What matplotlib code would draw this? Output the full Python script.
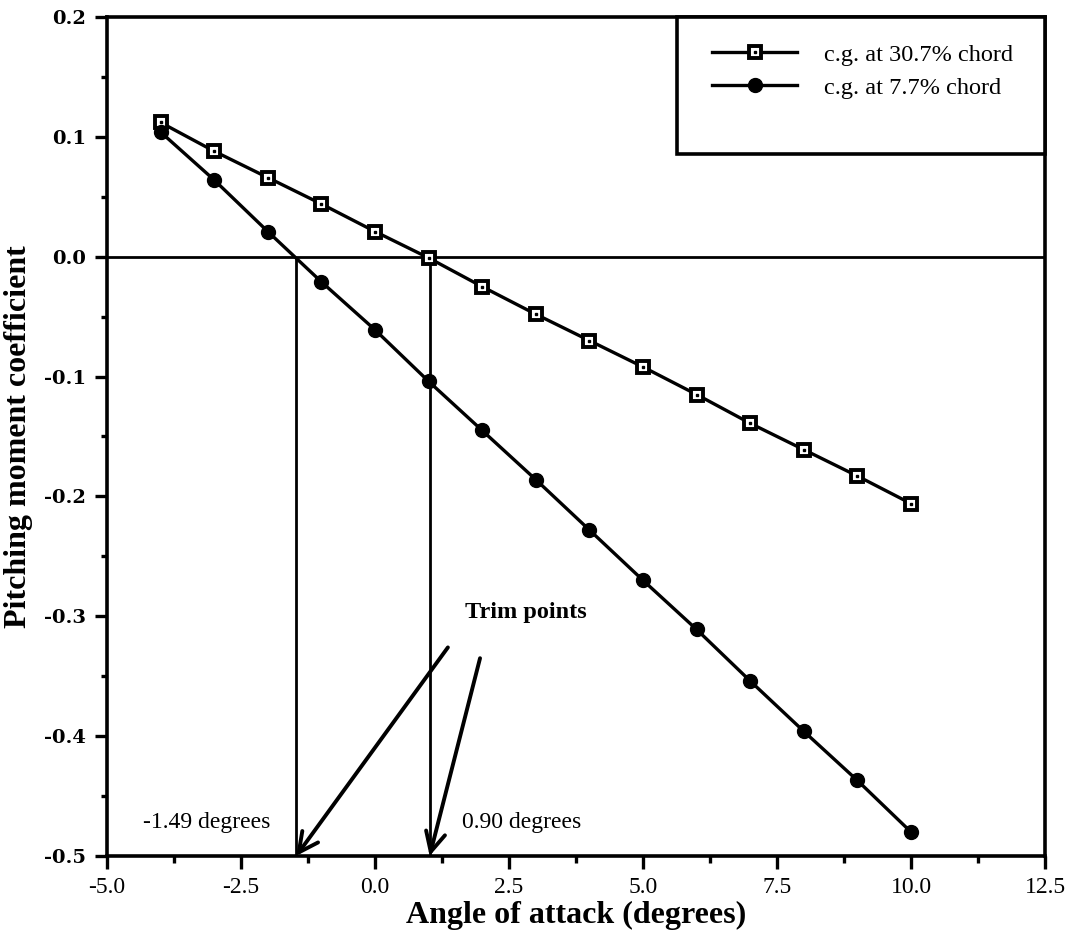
import matplotlib
matplotlib.use("Agg")
import matplotlib.pyplot as plt
from matplotlib.lines import Line2D
from matplotlib.patches import Rectangle
from matplotlib.legend_handler import HandlerTuple
from matplotlib.ticker import MultipleLocator, FormatStrFormatter

plt.rcParams['font.family'] = ['Liberation Serif', 'DejaVu Serif']

# data
alpha = [-4, -3, -2, -1, 0, 1, 2, 3, 4, 5, 6, 7, 8, 9, 10]
cm_307 = [0.112, 0.088, 0.066, 0.044, 0.021, -0.001, -0.025, -0.048,
          -0.070, -0.092, -0.115, -0.139, -0.161, -0.183, -0.206]
cm_77 = [0.104, 0.064, 0.021, -0.021, -0.061, -0.104, -0.145, -0.186,
         -0.228, -0.270, -0.311, -0.354, -0.396, -0.437, -0.480]
labels = ["c.g. at 30.7% chord", "c.g. at 7.7% chord"]

trim_x = [-1.47, 1.02]
trim_text = ["-1.49 degrees", "0.90 degrees"]
arrow_tails = [(1.36, -0.326), (1.96, -0.335)]

fig = plt.figure(figsize=(10.72, 9.43), dpi=100)
ax = fig.add_axes([0.0998, 0.0923, 0.875, 0.8897])

ax.axhline(0, color="black", lw=2, zorder=1)
ax.vlines(trim_x, -0.5, 0, color="black", lw=2, zorder=1)

sq_style = dict(color="black", lw=2.4, marker="s", ms=8.5, mfc="white",
                mec="black", mew=2.8)
dot_style = dict(ls="none", marker="s", ms=2, color="black")
circ_style = dict(color="black", lw=2.4, marker="o", ms=10)

ax.plot(alpha, cm_307, zorder=3, **sq_style)
ax.plot(alpha, cm_307, zorder=4, **dot_style)
ax.plot(alpha, cm_77, zorder=3, **circ_style)

for (tx, ty), x in zip(arrow_tails, trim_x):
    ax.annotate("", xy=(x, -0.5), xytext=(tx, ty),
                arrowprops=dict(arrowstyle="->,head_length=0.7,head_width=0.35",
                                lw=2.8, color="black", shrinkA=0, shrinkB=0,
                                mutation_scale=20), zorder=5)

ax.text(1.68, -0.297, "Trim points", fontsize=17.5, fontweight="bold",
        ha="left", va="center")
ax.text(-1.96, -0.472, trim_text[0], fontsize=17, ha="right", va="center")
ax.text(1.62, -0.472, trim_text[1], fontsize=17, ha="left", va="center")

ax.set_xlim(-5, 12.5)
ax.set_ylim(-0.5, 0.2)
ax.xaxis.set_major_locator(MultipleLocator(2.5))
ax.xaxis.set_minor_locator(MultipleLocator(1.25))
ax.yaxis.set_major_locator(MultipleLocator(0.1))
ax.yaxis.set_minor_locator(MultipleLocator(0.05))
ax.xaxis.set_major_formatter(FormatStrFormatter("%.1f"))
ax.yaxis.set_major_formatter(FormatStrFormatter("%.1f"))
ax.tick_params(axis="x", which="major", direction="out", length=9, width=2.4,
               labelsize=17, pad=6)
ax.tick_params(axis="x", which="minor", direction="out", length=5, width=2.4)
ax.tick_params(axis="y", which="major", direction="out", length=9, width=2.4,
               labelsize=14, pad=6)
ax.tick_params(axis="y", which="minor", direction="out", length=4, width=2.4)
for lab in ax.get_yticklabels():
    lab.set_fontweight("bold")
    lab.set_family("DejaVu Serif")
for sp in ax.spines.values():
    sp.set_linewidth(2.6)

ax.set_xlabel("Angle of attack (degrees)", fontsize=23, fontweight="bold",
              labelpad=2)
ax.set_ylabel("Pitching moment coefficient", fontsize=23, fontweight="bold",
              labelpad=8)

# legend box
ax.add_patch(Rectangle((0.608, 0.837), 0.392, 0.163, transform=ax.transAxes,
                       facecolor="white", edgecolor="black", lw=2.6,
                       clip_on=False, zorder=6))
h1 = (Line2D([], [], **sq_style), Line2D([], [], **dot_style))
h2 = Line2D([], [], **circ_style)
leg = ax.legend([h1, h2], labels, handler_map={tuple: HandlerTuple(ndivide=1)},
                loc="upper left", bbox_to_anchor=(0.645, 0.968), frameon=False,
                fontsize=17.5, handlelength=3.5, handletextpad=1.1,
                labelspacing=0.45, borderpad=0, borderaxespad=0)
leg.set_zorder(7)

fig.savefig("out.png", dpi=100)
